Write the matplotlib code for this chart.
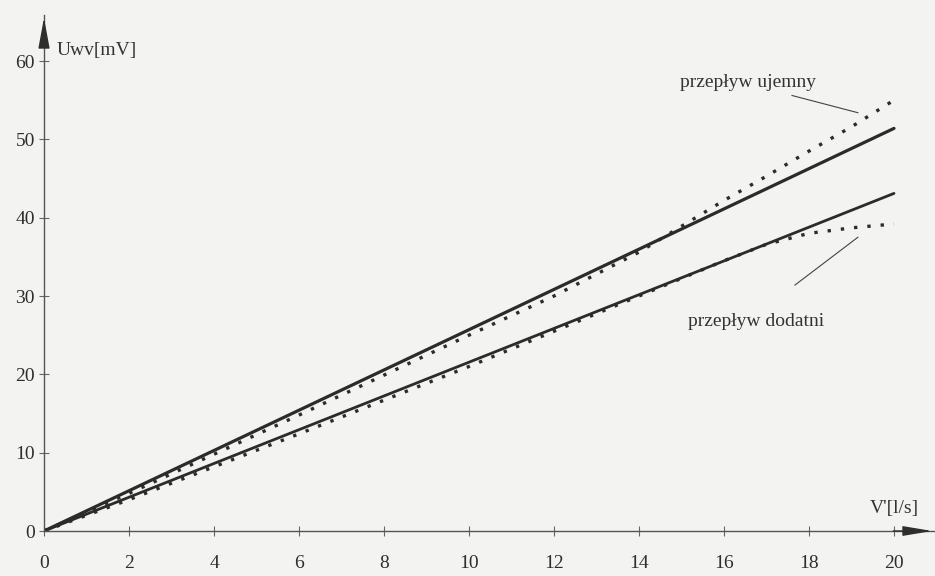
import matplotlib.pyplot as plt

# flow rate V' [l/s]
flow = [0, 2, 4, 6, 8, 10, 12, 14, 16, 17, 18, 19, 20]

# fitted characteristics (straight lines)
fit_x = [0, 20]
fit_neg = [0, 51.4]
fit_pos = [0, 43.1]

# measured voltage Uwv [mV]
meas_neg = [0, 4.8, 9.8, 14.8, 19.9, 25.0, 30.0, 35.6, 42.2, 45.3, 48.5, 51.6, 55.0]
meas_pos = [0, 4.0, 8.2, 12.4, 16.7, 21.0, 25.5, 30.0, 34.5, 36.6, 38.0, 38.7, 39.2]

x_ticks = [0, 2, 4, 6, 8, 10, 12, 14, 16, 18, 20]
y_ticks = [0, 10, 20, 30, 40, 50, 60]

W, H = 935, 576
bg = '#f3f3f1'
ink = '#2b2b2b'
serif = 'Liberation Serif'

fig = plt.figure(figsize=(W / 100, H / 100), dpi=100, facecolor=bg)
ax = fig.add_axes([44 / W, 45 / H, (W - 44) / W, (H - 45 - 15) / H])
ax.set_facecolor(bg)
ax.set_xlim(0, (W - 44) / 42.5)
ax.set_ylim(0, 516 / 7.833)

ax.plot(fit_x, fit_neg, color=ink, lw=2.3, solid_capstyle='round')
ax.plot(fit_x, fit_pos, color=ink, lw=2.0, solid_capstyle='round')
ax.plot(flow, meas_neg, color=ink, lw=2.4, linestyle=(0, (1.0, 3.0)))
ax.plot(flow, meas_pos, color=ink, lw=2.4, linestyle=(0, (1.0, 3.0)))

for side in ['top', 'right']:
    ax.spines[side].set_visible(False)
for side in ['left', 'bottom']:
    ax.spines[side].set_color('#555555')
    ax.spines[side].set_linewidth(1.0)

ax.set_xticks(x_ticks)
ax.set_yticks(y_ticks)
ax.tick_params(direction='inout', length=7, width=0.8, color='#666666',
               labelsize=14, labelcolor='#2e2e2e')
ax.tick_params(axis='x', pad=14)
ax.tick_params(axis='y', pad=3)
for lab in ax.get_xticklabels() + ax.get_yticklabels():
    lab.set_family(serif)

# axis arrows
ax.annotate('', xy=(0, 1.0), xycoords='axes fraction', xytext=(0, 0.94),
            arrowprops=dict(arrowstyle='-|>,head_length=1.9,head_width=0.35',
                            color='#2e2e2e', lw=1.0))
ax.annotate('', xy=(1.0, 0), xycoords='axes fraction', xytext=(0.95, 0),
            arrowprops=dict(arrowstyle='-|>,head_length=1.8,head_width=0.3',
                            color='#2e2e2e', lw=1.0))

ax.text(0.3, 61.4, 'Uwv[mV]', family=serif, fontsize=14, color='#333333', va='center')
ax.text(19.44, 2.9, "V'[l/s]", family=serif, fontsize=14, color='#333333', va='center')

ax.text(14.96, 57.3, 'przepływ ujemny', family=serif, fontsize=14, color='#333333', va='center')
ax.plot([17.6, 19.15], [55.6, 53.4], color='#444444', lw=0.8)
ax.text(15.15, 26.8, 'przepływ dodatni', family=serif, fontsize=14, color='#333333', va='center')
ax.plot([17.67, 19.15], [31.4, 37.5], color='#444444', lw=0.8)

fig.savefig('out.png', dpi=100, facecolor=bg)
